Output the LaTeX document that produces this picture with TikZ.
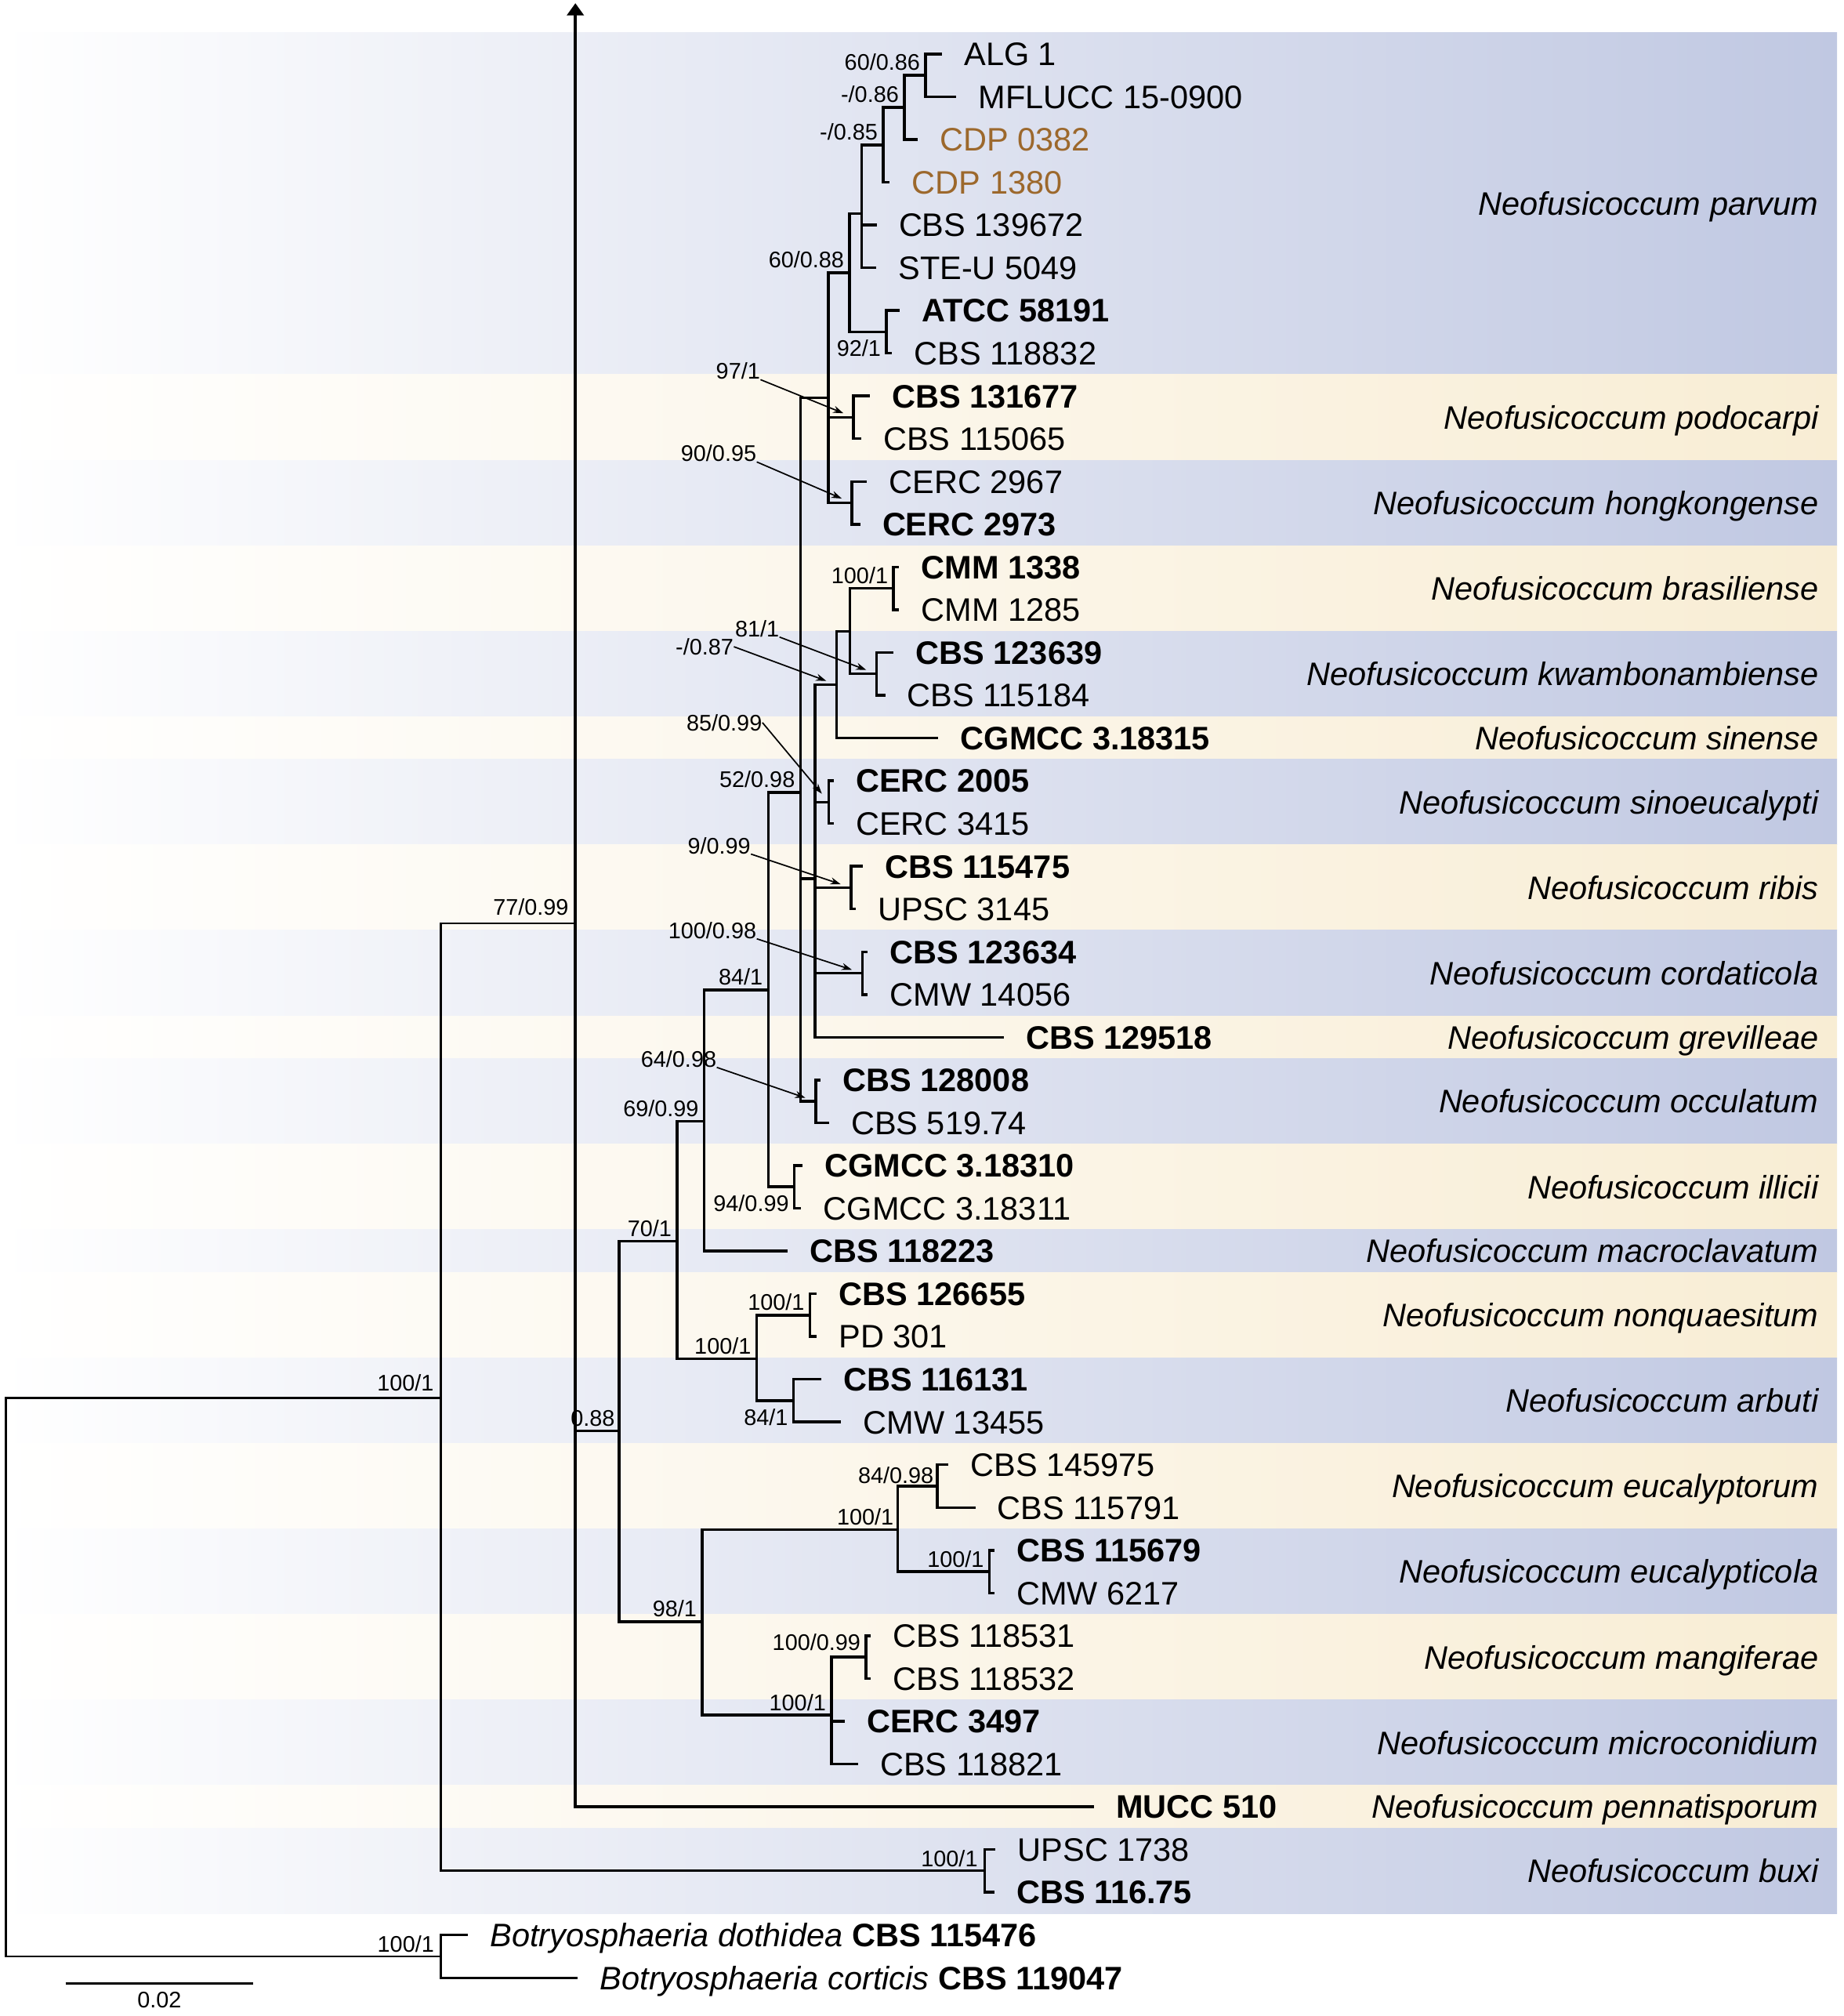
\documentclass[tikz,border=0pt]{standalone}
\usepackage{fontspec}
\setmainfont{Liberation Sans}
\usetikzlibrary{arrows.meta,positioning}
\definecolor{bandblue}{RGB}{192,200,226}
\definecolor{bandyellow}{RGB}{248,237,212}
\definecolor{cdpbrown}{RGB}{156,104,44}
\tikzset{
  twig/.style={line width=1.2pt},
  stem/.style={line width=0.95pt},
  strain/.style={font=\fontsize{14.4}{17}\selectfont, inner sep=0pt, text height=10.3pt, text depth=0pt},
  typestrain/.style={strain, font=\fontsize{14.4}{17}\selectfont\bfseries},
  cdpstrain/.style={strain, text=cdpbrown},
  species/.style={strain, font=\fontsize{14.4}{17}\selectfont\itshape, anchor=east},
  support/.style={font=\fontsize{10}{12}\selectfont, inner sep=0pt, text height=7.2pt, text depth=0pt},
  supparrow/.style={line width=0.6pt, -{Stealth[length=1.6mm,width=1.1mm]}, shorten >=1.7mm}
}

\begin{document}
\begin{tikzpicture}[x=0.2mm, y=-0.2mm, node distance=3.4mm]
  \useasboundingbox (0,0) rectangle (1434,1568);

  \foreach \a/\b/\sp [count=\k] in {0/7/parvum, 8/9/podocarpi, 10/11/hongkongense,
      12/13/brasiliense, 14/15/kwambonambiense, 16/16/sinense, 17/18/sinoeucalypti,
      19/20/ribis, 21/22/cordaticola, 23/23/grevilleae, 24/25/occulatum, 26/27/illicii,
      28/28/macroclavatum, 29/30/nonquaesitum, 31/32/arbuti, 33/34/eucalyptorum,
      35/36/eucalypticola, 37/38/mangiferae, 39/40/microconidium, 41/41/pennatisporum,
      42/43/buxi}{
    \ifodd\k\relax \def\bc{bandblue}\else \def\bc{bandyellow}\fi
    \shade[left color=white, right color=\bc] (0,{42+33.25*(\a-0.5)}) rectangle (1429,{42+33.25*(\b+0.5)});
    \node[species] (sp\k) at (1415,{42+33.25*(\a+\b)/2}) {Neofusicoccum \sp};
  }

  \coordinate (root) at (4.5,1304.5);
  \coordinate (nX) at (342.8,1087.3);
  \coordinate (nBot) at (343,1521.6);
  \coordinate (nQ) at (447.6,718.2);
  \coordinate (qtop) at (447.6,2.5);
  \coordinate (nBuxi) at (765.9,1455.1);
  \coordinate (nP) at (481.6,1112.8);
  \coordinate (nN) at (526.8,965.4);
  \coordinate (nM) at (547.8,872);
  \coordinate (nL) at (597.6,770);
  \coordinate (nH) at (622.7,616.4);
  \coordinate (nG) at (644.3,309.5);
  \coordinate (nE) at (660.9,212.1);
  \coordinate (nD) at (670.4,166);
  \coordinate (nC) at (687.1,112.7);
  \coordinate (nB) at (703.5,83.6);
  \coordinate (nA) at (720,58.6);
  \coordinate (nF) at (689.6,258.1);
  \coordinate (nPod) at (664,324.6);
  \coordinate (nHk) at (662.6,391.1);
  \coordinate (nK) at (633.9,683.4);
  \coordinate (nI) at (650.7,532.5);
  \coordinate (nJ) at (661.1,491.1);
  \coordinate (nBras) at (695.1,457.6);
  \coordinate (nKw) at (681.8,524.1);
  \coordinate (nSino) at (644.8,623.9);
  \coordinate (nRib) at (662,690.4);
  \coordinate (nCor) at (670.8,756.9);
  \coordinate (nOcc) at (634.5,856.6);
  \coordinate (nIll) at (618,923.1);
  \coordinate (nO) at (588.6,1056.9);
  \coordinate (nNon) at (630.1,1022.9);
  \coordinate (nArb) at (617.3,1089.4);
  \coordinate (nR) at (546.3,1261.2);
  \coordinate (nS) at (698.5,1189.6);
  \coordinate (nT) at (729.1,1155.9);
  \coordinate (nU) at (769.7,1222.4);
  \coordinate (nV) at (646.8,1334);
  \coordinate (nW) at (673.7,1288.9);

  \foreach \nm/\tx/\ty/\st/\lab in {alg/732.7/42/strain/ALG 1,
      mfl/744/75.25/strain/MFLUCC 15-0900, cdpa/713.7/108.5/cdpstrain/CDP 0382,
      cdpb/692.2/141.75/cdpstrain/CDP 1380, cbsa/681.9/175/strain/CBS 139672,
      steu/681.5/208.25/strain/STE-U 5049, atcc/699.9/241.5/typestrain/ATCC 58191,
      cbsb/694/274.75/strain/CBS 118832, cbsc/676.5/308/typestrain/CBS 131677,
      cbsd/669.9/341.25/strain/CBS 115065, cerca/674.4/374.5/strain/CERC 2967,
      cercb/669.1/407.75/typestrain/CERC 2973, cmma/699.5/441/typestrain/CMM 1338,
      cmmb/699.5/474.25/strain/CMM 1285, cbse/695.1/507.5/typestrain/CBS 123639,
      cbsf/688.6/540.75/strain/CBS 115184, cgma/729.9/574/typestrain/CGMCC 3.18315,
      cercc/648.4/607.25/typestrain/CERC 2005, cercd/648.4/640.5/strain/CERC 3415,
      cbsg/671.4/673.75/typestrain/CBS 115475, upsa/665.5/707/strain/UPSC 3145,
      cbsh/675/740.25/typestrain/CBS 123634, cmwa/675/773.5/strain/CMW 14056,
      cbsi/780.8/806.75/typestrain/CBS 129518, cbsj/638.3/840/typestrain/CBS 128008,
      cbsk/644.8/873.25/strain/CBS 519.74, cgmb/624.2/906.5/typestrain/CGMCC 3.18310,
      cgmc/623.3/939.75/strain/CGMCC 3.18311, cbsl/612.8/973/typestrain/CBS 118223,
      cbsm/635.3/1006.25/typestrain/CBS 126655, pd/635.3/1039.5/strain/PD 301,
      cbsn/638.7/1072.75/typestrain/CBS 116131, cmwb/654.3/1106/strain/CMW 13455,
      cbso/737.6/1139.25/strain/CBS 145975, cbsp/758.7/1172.5/strain/CBS 115791,
      cbsq/773.4/1205.75/typestrain/CBS 115679, cmwc/773.4/1239/strain/CMW 6217,
      cbsr/677.4/1272.25/strain/CBS 118531, cbss/677.4/1305.5/strain/CBS 118532,
      cerce/657.1/1338.75/typestrain/CERC 3497, cbst/667.4/1372/strain/CBS 118821,
      mucc/851/1405.25/typestrain/MUCC 510, upsb/774.4/1438.5/strain/UPSC 1738,
      cbsu/773.4/1471.75/typestrain/CBS 116.75}{
    \coordinate (\nm) at (\tx,\ty);
    \node[\st, right=of \nm] (l\nm) {\lab};
  }
  \coordinate (bdot) at (364,1505);
  \coordinate (bcor) at (449.5,1538.25);
  \node[strain, right=of bdot] (lbdot) {{\itshape Botryosphaeria dothidea} \textbf{CBS 115476}};
  \node[strain, right=of bcor] (lbcor) {{\itshape Botryosphaeria corticis} \textbf{CBS 119047}};

  \foreach \p/\c in {nA/alg, nA/mfl, nB/nA, nB/cdpa, nC/nB, nC/cdpb, nD/nC, nD/cbsa,
      nD/steu, nF/atcc, nF/cbsb, nE/nD, nE/nF, nG/nE, nG/nPod, nG/nHk, nPod/cbsc,
      nPod/cbsd, nHk/cerca, nHk/cercb, nH/nG, nH/nK, nH/nOcc, nK/nI, nK/nSino, nK/nRib,
      nK/nCor, nK/cbsi, nI/nJ, nI/cgma, nJ/nBras, nJ/nKw, nBras/cmma, nBras/cmmb,
      nKw/cbse, nKw/cbsf, nSino/cercc, nSino/cercd, nRib/cbsg, nRib/upsa, nCor/cbsh,
      nCor/cmwa, nOcc/cbsj, nOcc/cbsk, nL/nH, nL/nIll, nIll/cgmb, nIll/cgmc, nM/nL,
      nM/cbsl, nN/nM, nN/nO, nO/nNon, nO/nArb, nNon/cbsm, nNon/pd, nArb/cbsn, nArb/cmwb,
      nP/nN, nP/nR, nR/nS, nR/nV, nS/nT, nS/nU, nT/cbso, nT/cbsp, nU/cbsq, nU/cmwc,
      nV/nW, nV/cerce, nV/cbst, nW/cbsr, nW/cbss, nQ/nP, nQ/mucc, nBuxi/upsb, nBuxi/cbsu}
    \draw[twig] (\p) |- (\c);
  \foreach \p/\c in {root/nX, root/nBot, nX/nQ, nX/nBuxi, nBot/bdot, nBot/bcor}
    \draw[stem] (\p) |- (\c);
  \draw[twig, -{Triangle[length=1.9mm,width=2.6mm]}] (nQ) -- (qtop);

  \node[support, above left=0.7mm and 0.8mm of nA] (sA) {60/0.86};
  \node[support, above left=0.7mm and 0.8mm of nB] (sB) {-/0.86};
  \node[support, above left=0.7mm and 0.8mm of nC] (sC) {-/0.85};
  \node[support, above left=0.7mm and 0.8mm of nE] (sE) {60/0.88};
  \node[support, below left=1.2mm and 0.8mm of nF] (sF) {92/1};
  \node[support, above left=0.7mm and 0.8mm of nH] (sH) {52/0.98};
  \node[support, above left=0.7mm and 0.8mm of nBras] (sBras) {100/1};
  \node[support, above left=0.7mm and 0.8mm of nL] (sL) {84/1};
  \node[support, below left=1.2mm and 0.8mm of nIll] (sIll) {94/0.99};
  \node[support, above left=0.7mm and 0.8mm of nM] (sM) {69/0.99};
  \node[support, above left=0.7mm and 0.8mm of nN] (sN) {70/1};
  \node[support, above left=0.7mm and 0.8mm of nO] (sO) {100/1};
  \node[support, above left=0.7mm and 0.8mm of nNon] (sNon) {100/1};
  \node[support, below left=1.2mm and 0.8mm of nArb] (sArb) {84/1};
  \node[support, above left=0.7mm and 0.6mm of nP] (sP) {0.88};
  \node[support, above left=0.7mm and 0.8mm of nR] (sR) {98/1};
  \node[support, above left=0.7mm and 0.6mm of nS] (sS) {100/1};
  \node[support, above left=0.4mm and 0.5mm of nT] (sT) {84/0.98};
  \node[support, above left=0.6mm and 0.8mm of nU] (sU) {100/1};
  \node[support, above left=0.6mm and 0.8mm of nV] (sV) {100/1};
  \node[support, above left=1mm and 0.8mm of nW] (sW) {100/0.99};
  \node[support, above left=1.2mm and 1mm of nQ] (sQ) {77/0.99};
  \node[support, above left=1mm and 1mm of nX] (sX) {100/1};
  \node[support, above left=0.6mm and 1mm of nBuxi] (sBuxi) {100/1};
  \node[support, above left=0.6mm and 1mm of nBot] (sBot) {100/1};

  \node[support, anchor=east] (sPod) at (591.6,288.6) {97/1};
  \node[support, anchor=east] (sHk) at (588.7,352.6) {90/0.95};
  \node[support, anchor=east] (sKw) at (606.4,488.8) {81/1};
  \node[support, anchor=east] (sI) at (570.9,503) {-/0.87};
  \node[support, anchor=east] (sSino) at (593.1,562) {85/0.99};
  \node[support, anchor=east] (sRib) at (584.2,657.6) {9/0.99};
  \node[support, anchor=east] (sCor) at (588.7,723.5) {100/0.98};
  \node[support, anchor=east] (sOcc) at (557.6,823.5) {64/0.98};
  \draw[supparrow] (sPod.south east) -- (nPod);
  \draw[supparrow] (sHk.south east) -- (nHk);
  \draw[supparrow] (sKw.south east) -- (nKw);
  \draw[supparrow] (sI.east) -- (nI);
  \draw[supparrow] (sSino.east) -- (nSino);
  \draw[supparrow] (sRib.south east) -- (nRib);
  \draw[supparrow] (sCor.south east) -- (nCor);
  \draw[supparrow] (sOcc.south east) -- (nOcc);

  \coordinate (sba) at (51,1542.8);
  \coordinate (sbb) at (197.1,1542.8);
  \draw[stem] (sba) -- (sbb) node[support, midway, below=1.1mm] (sbl) {0.02};
\end{tikzpicture}
\end{document}
